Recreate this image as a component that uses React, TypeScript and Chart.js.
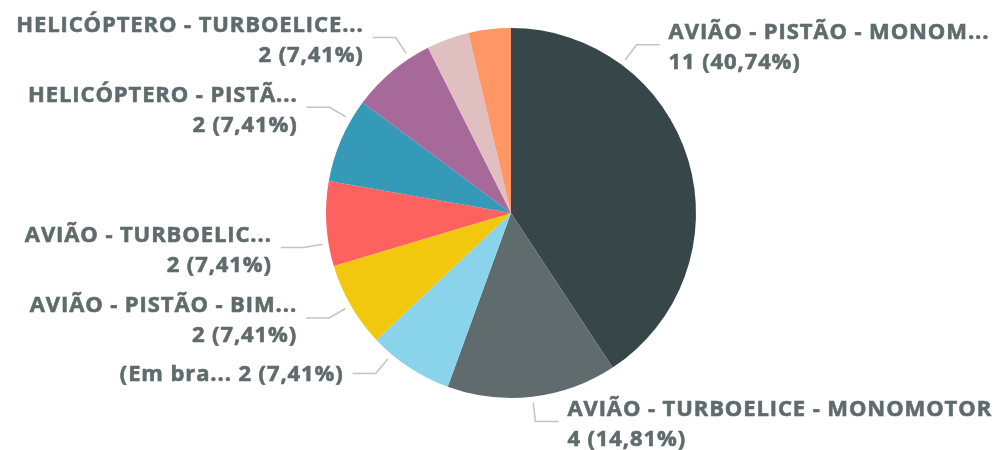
import React, { useEffect, useRef } from "react";
import { Chart, registerables } from "chart.js";

Chart.register(...registerables);

// ---- Data ----
const categories = [
  "AVIÃO - PISTÃO - MONOM...",
  "AVIÃO - TURBOELICE - MONOMOTOR",
  "(Em bra...",
  "AVIÃO - PISTÃO - BIM...",
  "AVIÃO - TURBOELIC...",
  "HELICÓPTERO - PISTÃ...",
  "HELICÓPTERO - TURBOELICE...",
  "Outro A",
  "Outro B",
];
const values = [11, 4, 2, 2, 2, 2, 2, 1, 1];
const colors = [
  "#374649",
  "#5F6B6D",
  "#8AD4EB",
  "#F2C80F",
  "#FD625E",
  "#3599B8",
  "#A66999",
  "#DFBFBF",
  "#FE9666",
];
// label layout: whether shown, angular shift (deg) from slice mid-angle, single-line
const labelShown = [true, true, true, true, true, true, true, false, false];
const labelAngleShift = [-36.6, 0, 6.8, 0, -6.1, 6.9, 6.7, 0, 0];
const labelSingleLine = [false, false, true, false, false, false, false, false, false];

const TEXT_COLOR = "#5F6B6D";
const LEADER_COLOR = "#C3C3C3";
const FONT = "bold 22px 'Open Sans', 'DejaVu Sans', sans-serif";

function fmtPct(v: number, total: number) {
  return ((v / total) * 100).toFixed(2).replace(".", ",") + "%";
}

const labelPlugin = {
  id: "pieLabels",
  afterDatasetsDraw(chart: any) {
    const ctx = chart.ctx as CanvasRenderingContext2D;
    const meta = chart.getDatasetMeta(0);
    const total = values.reduce((a, b) => a + b, 0);
    ctx.save();
    ctx.font = FONT;
    (ctx as any).letterSpacing = "0.9px";
    meta.data.forEach((arc: any, i: number) => {
      if (!labelShown[i]) return;
      const p = arc.getProps(["x", "y", "outerRadius", "startAngle", "endAngle"], true);
      const mid = (p.startAngle + p.endAngle) / 2 + (labelAngleShift[i] * Math.PI) / 180;
      const dx = Math.cos(mid);
      const dy = Math.sin(mid);
      const r0 = p.outerRadius + 6;
      const sx = p.x + dx * r0;
      const sy = p.y + dy * r0;
      const ex = sx + dx * 19;
      const ey = sy + dy * 19;
      const right = dx >= 0;
      const hx = ex + (right ? 23 : -23);
      ctx.strokeStyle = LEADER_COLOR;
      ctx.lineWidth = 1.5;
      ctx.beginPath();
      ctx.moveTo(sx, sy);
      ctx.lineTo(ex, ey);
      ctx.lineTo(hx, ey);
      ctx.stroke();

      const valText = `${values[i]} (${fmtPct(values[i], total)})`;
      const lines = labelSingleLine[i] ? [`${categories[i]} ${valText}`] : [categories[i], valText];
      const lh = 30;
      const cy = ey + (lines.length > 1 ? 3 : 1);
      const tx = hx + (right ? 9 : -9);
      ctx.fillStyle = TEXT_COLOR;
      ctx.strokeStyle = TEXT_COLOR;
      ctx.lineWidth = 0.6;
      ctx.textAlign = right ? "left" : "right";
      ctx.textBaseline = "middle";
      lines.forEach((ln, k) => {
        const y = cy - ((lines.length - 1) * lh) / 2 + k * lh;
        ctx.fillText(ln, tx, y);
        ctx.strokeText(ln, tx, y);
      });
    });
    ctx.restore();
  },
};

export default function App() {
  const ref = useRef<HTMLCanvasElement | null>(null);
  useEffect(() => {
    document.body.style.margin = "0";
    if (!ref.current) return;
    const chart = new Chart(ref.current, {
      type: "pie",
      data: {
        labels: categories,
        datasets: [
          {
            data: values,
            backgroundColor: colors,
            borderWidth: 0,
          },
        ],
      },
      options: {
        animation: false,
        responsive: false,
        maintainAspectRatio: false,
        layout: { padding: { top: 28, bottom: 52, left: 100, right: 76 } },
        plugins: {
          legend: { display: false },
          tooltip: { enabled: false },
        },
      },
      plugins: [labelPlugin],
    });
    return () => chart.destroy();
  }, []);
  return (
    <div style={{ width: 998, height: 450, background: "#fff" }}>
      <canvas ref={ref} width={998} height={450} style={{ display: "block" }} />
    </div>
  );
}
